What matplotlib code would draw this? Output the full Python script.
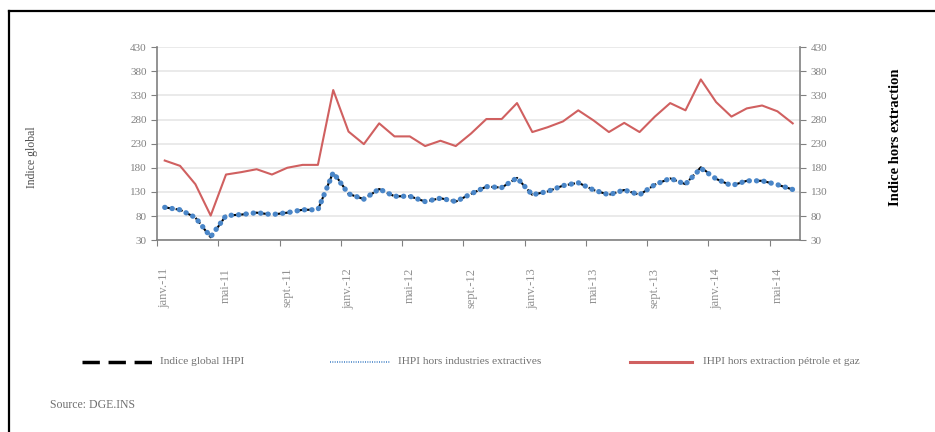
import numpy as np
import matplotlib.pyplot as plt
from matplotlib.lines import Line2D

months = ['janv.-11', 'févr.-11', 'mars-11', 'avr.-11', 'mai-11', 'juin-11', 'juil.-11', 'août-11',
          'sept.-11', 'oct.-11', 'nov.-11', 'déc.-11',
          'janv.-12', 'févr.-12', 'mars-12', 'avr.-12', 'mai-12', 'juin-12', 'juil.-12', 'août-12',
          'sept.-12', 'oct.-12', 'nov.-12', 'déc.-12',
          'janv.-13', 'févr.-13', 'mars-13', 'avr.-13', 'mai-13', 'juin-13', 'juil.-13', 'août-13',
          'sept.-13', 'oct.-13', 'nov.-13', 'déc.-13',
          'janv.-14', 'févr.-14', 'mars-14', 'avr.-14', 'mai-14', 'juin-14']

global_idx = [98, 93, 77, 36, 81, 83, 87, 83, 87, 93, 93, 171,
              126, 115, 136, 121, 121, 110, 117, 110, 126, 141, 139, 159,
              124, 131, 143, 149, 134, 124, 134, 124, 145, 158, 146, 181,
              157, 143, 153, 153, 145, 135]
hors_ind_extr = [98, 93, 77, 37, 81, 83, 87, 83, 87, 93, 93, 170,
                 126, 115, 136, 121, 121, 110, 117, 110, 126, 141, 139, 159,
                 124, 131, 143, 149, 134, 124, 134, 124, 145, 158, 146, 179,
                 157, 143, 153, 153, 145, 135]
hors_petrole = [195, 184, 146, 81, 166, 171, 177, 166, 180, 186, 186, 341,
                255, 229, 272, 245, 245, 225, 236, 225, 251, 281, 281, 314,
                254, 264, 276, 299, 278, 254, 273, 254, 286, 314, 299, 363,
                316, 286, 303, 309, 297, 272]

yticks = [30, 80, 130, 180, 230, 280, 330, 380, 430]

plt.rcParams['font.family'] = ['Liberation Serif', 'DejaVu Serif']

fig = plt.figure(figsize=(9.35, 4.32), dpi=100)
ax = fig.add_axes([0.168, 0.444, 0.688, 0.447])

x = np.arange(len(months))
ax.plot(x, global_idx, color='black', lw=1.5, ls=(0, (3.5, 1.8)), zorder=3)
ax.plot(x, hors_ind_extr, color='#4A86C8', lw=3.8, ls=(0, (0.05, 1.35)),
        dash_capstyle='round', zorder=4)
ax.plot(x, hors_petrole, color='#D06060', lw=1.5, zorder=3)

ax.set_xlim(-0.5, len(months) - 0.5)
ax.set_ylim(30, 430)
ax.set_yticks(yticks)
ax.set_yticklabels([str(v) for v in yticks], color='#808080', fontsize=8)
ax.grid(axis='y', color='#E6E6E6', lw=1.2)
ax.set_axisbelow(True)

ax.set_xticks(np.arange(-0.5, len(months), 4))
ax.set_xticklabels([])
ax.set_xticks(np.arange(0, len(months), 4), minor=True)
ax.set_xticklabels(months[::4], minor=True, rotation=90, va='top', ha='center',
                   color='#909090', fontsize=9)
ax.tick_params(axis='x', which='minor', length=0, pad=20)
ax.tick_params(axis='x', which='major', length=4, color='#808080', direction='out')
ax.tick_params(axis='y', length=4, color='#808080')

for s in ['top', 'right']:
    ax.spines[s].set_visible(False)
for s in ['left', 'bottom']:
    ax.spines[s].set_color('#808080')
    ax.spines[s].set_linewidth(1.2)

ax2 = ax.twinx()
ax2.set_ylim(30, 430)
ax2.set_yticks(yticks)
ax2.set_yticklabels([str(v) for v in yticks], color='#808080', fontsize=8)
ax2.tick_params(axis='y', length=4, color='#808080')
for s in ['top', 'left', 'bottom']:
    ax2.spines[s].set_visible(False)
ax2.spines['right'].set_color('#808080')
ax2.spines['right'].set_linewidth(1.2)

fig.text(0.034, 0.635, 'Indice global', rotation=90, va='center', ha='center',
         fontsize=8.5, color='#505050')
fig.text(0.958, 0.683, 'Indice hors extraction', rotation=90, va='center', ha='center',
         fontsize=10.5, color='black', fontweight='bold')

# legend drawn by hand in figure coordinates
legend_y = 1 - 362 / 432
items = [
    (82, 152, 160, 'Indice global IHPI', dict(color='black', lw=2.5, ls=(0, (5, 2.5)))),
    (330, 390, 398, 'IHPI hors industries extractives',
     dict(color='#4A86C8', lw=1.2, ls=(0, (0.6, 0.8)))),
    (630, 692, 703, 'IHPI hors extraction pétrole et gaz', dict(color='#D06060', lw=2.2)),
]
for x0, x1, xt, label, style in items:
    fig.add_artist(Line2D([x0 / 935, x1 / 935], [legend_y, legend_y], **style))
    fig.text(xt / 935, legend_y, label, va='center', ha='left', fontsize=8.2, color='#707070')

fig.text(50 / 935, 1 - 405 / 432, 'Source: DGE.INS', va='center', ha='left',
         fontsize=8.5, color='#707070')

# frame (top and left edges only)
fig.add_artist(Line2D([9 / 935, 1], [1 - 11 / 432, 1 - 11 / 432], color='black', lw=1.6))
fig.add_artist(Line2D([9 / 935, 9 / 935], [0, 1 - 11 / 432], color='black', lw=1.6))

fig.savefig('out.png', dpi=100)
